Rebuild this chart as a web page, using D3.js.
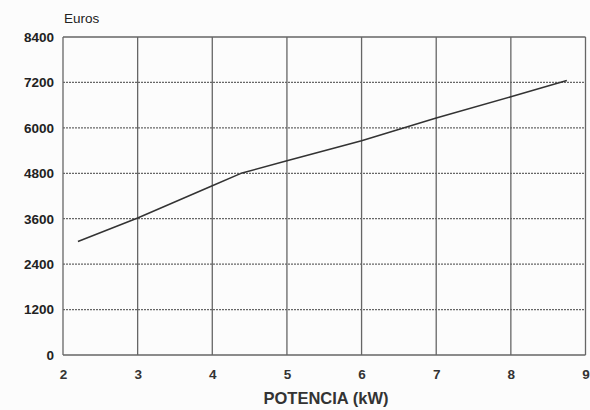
<!DOCTYPE html>
<html><head><meta charset="utf-8">
<script src="https://cdn.jsdelivr.net/npm/d3@7"></script>
<style>body{margin:0;background:#fcfcfc;}svg{display:block;}</style>
</head><body>
<script>
const potencia = [2.2, 3, 4, 4.4, 5, 6, 7, 8, 8.75];
const euros = [3000, 3620, 4470, 4810, 5130, 5660, 6260, 6820, 7250];
const xTicks = [2, 3, 4, 5, 6, 7, 8, 9];
const yTicks = [0, 1200, 2400, 3600, 4800, 6000, 7200, 8400];

const W = 590, H = 410;
const m = {l: 63, r: 4.5, t: 37, b: 55};
const svg = d3.select("body").append("svg").attr("width", W).attr("height", H);
const x = d3.scaleLinear().domain([2, 9]).range([m.l, W - m.r]);
const y = d3.scaleLinear().domain([0, 8400]).range([H - m.b, m.t]);
const FONT = "Arial, Liberation Sans, sans-serif";

const g = svg.append("g");
g.selectAll("line.h").data(yTicks).join("line")
  .attr("x1", x(2)).attr("x2", x(9)).attr("y1", d => y(d)).attr("y2", d => y(d))
  .attr("stroke", "#666").attr("stroke-width", 1.3).attr("stroke-dasharray", d => (d === 0 || d === 8400) ? null : "2,1");
g.selectAll("line.v").data(xTicks).join("line")
  .attr("y1", y(0)).attr("y2", y(8400)).attr("x1", d => x(d)).attr("x2", d => x(d))
  .attr("stroke", "#666").attr("stroke-width", 1.3);

const ya = d3.axisLeft(y).tickValues(yTicks).tickFormat(d3.format("d")).tickSize(0).tickPadding(9);
svg.append("g").attr("transform", `translate(${m.l},0)`).call(ya)
  .call(s => s.select(".domain").remove())
  .selectAll("text").attr("font-family", FONT).attr("font-weight", "bold").attr("font-size", 13.5).attr("fill", "#222");
const xa = d3.axisBottom(x).tickValues(xTicks).tickFormat(d3.format("d")).tickSize(0).tickPadding(14);
svg.append("g").attr("transform", `translate(0,${y(0)})`).call(xa)
  .call(s => s.select(".domain").remove())
  .selectAll("text").attr("font-family", FONT).attr("font-weight", "bold").attr("font-size", 13.5).attr("fill", "#333");

const pts = potencia.map((p, i) => [p, euros[i]]);
svg.append("path").datum(pts)
  .attr("d", d3.line().x(d => x(d[0])).y(d => y(d[1])))
  .attr("fill", "none").attr("stroke", "#333").attr("stroke-width", 1.5);

svg.append("text").attr("x", 64).attr("y", 23).text("Euros")
  .attr("font-family", FONT).attr("font-size", 13.5).attr("fill", "#222");
svg.append("text").attr("x", 326).attr("y", 404).attr("text-anchor", "middle").text("POTENCIA (kW)")
  .attr("font-family", FONT).attr("font-weight", "bold").attr("font-size", 16.5).attr("fill", "#333");
</script>
</body></html>
